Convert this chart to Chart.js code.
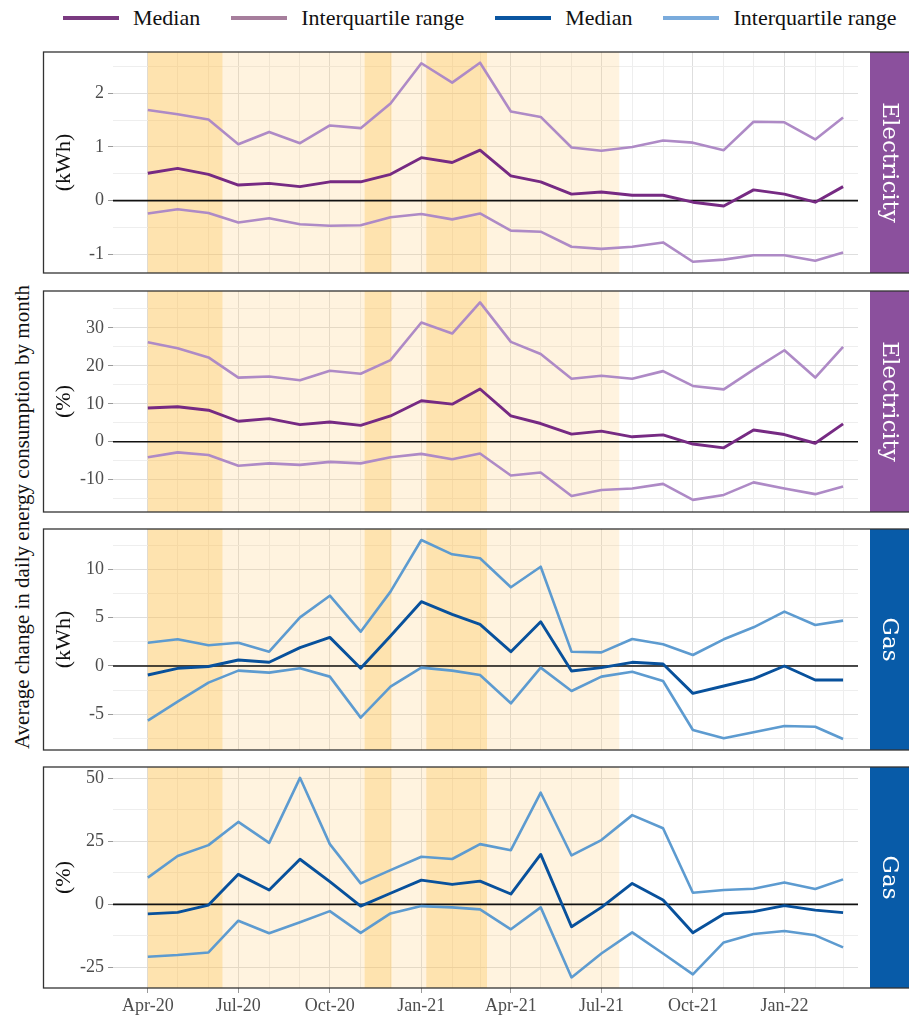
<!DOCTYPE html>
<html>
<head>
<meta charset="utf-8">
<script src="https://cdn.jsdelivr.net/npm/chart.js@4.4.0/dist/chart.umd.min.js"></script>
<style>
  body { margin: 0; background: #fff; }
  #wrap { position: relative; width: 909px; height: 1015px; overflow: hidden; font-family: "Liberation Serif", "Times New Roman", serif; }
  canvas { position: absolute; left: 0; }
  #legend { position: absolute; top: 5px; left: 63px; display: flex; align-items: center; font-size: 22px; white-space: nowrap; color: #111; }
  #legend .key { display: inline-block; width: 56px; height: 4px; margin-right: 14px; }
  #legend .lab { margin-right: 31px; }
  #ytitle { position: absolute; left: 22px; top: 517px; transform: translate(-50%, -50%) rotate(-90deg); font-size: 21px; white-space: nowrap; color: #111; }
</style>
</head>
<body>
<div id="wrap">
  <div id="legend">
    <span class="key" style="background:#7a3a80"></span><span class="lab">Median</span>
    <span class="key" style="background:#a67e9c"></span><span class="lab">Interquartile range</span>
    <span class="key" style="background:#0a55a0"></span><span class="lab">Median</span>
    <span class="key" style="background:#7aabdc"></span><span class="lab" style="margin-right:0">Interquartile range</span>
  </div>
  <div id="ytitle">Average change in daily energy consumption by month</div>
  <canvas id="c1" width="909" height="225" style="top:50px"></canvas>
  <canvas id="c2" width="909" height="225" style="top:289px"></canvas>
  <canvas id="c3" width="909" height="225" style="top:527px"></canvas>
  <canvas id="c4" width="909" height="250" style="top:765px"></canvas>
</div>
<script>
// months of the series (first day of each month)
const months = ['2020-04', '2020-05', '2020-06', '2020-07', '2020-08', '2020-09', '2020-10', '2020-11', '2020-12',
  '2021-01', '2021-02', '2021-03', '2021-04', '2021-05', '2021-06', '2021-07', '2021-08', '2021-09', '2021-10',
  '2021-11', '2021-12', '2022-01', '2022-02', '2022-03'];
const quarterTicks = ['Apr-20', 'Jul-20', 'Oct-20', 'Jan-21', 'Apr-21', 'Jul-21', 'Oct-21', 'Jan-22'];

// restriction periods
const lockdowns = [['2020-04-01', '2020-06-15'], ['2020-11-05', '2020-12-02'], ['2021-01-06', '2021-03-08']];
const restrictions = [['2020-04-01', '2021-07-19']];

// electricity (kWh)
const elecKwhUpper = [1.69, 1.61, 1.51, 1.05, 1.28, 1.07, 1.40, 1.35, 1.81, 2.56, 2.20, 2.57, 1.66, 1.56, 0.99, 0.93, 1.00, 1.12, 1.08, 0.94, 1.47, 1.46, 1.14, 1.55];
const elecKwhMedian = [0.51, 0.60, 0.49, 0.29, 0.32, 0.26, 0.35, 0.35, 0.49, 0.80, 0.71, 0.94, 0.46, 0.35, 0.12, 0.16, 0.10, 0.10, -0.03, -0.10, 0.20, 0.12, -0.03, 0.26];
const elecKwhLower = [-0.24, -0.16, -0.23, -0.41, -0.33, -0.44, -0.47, -0.46, -0.31, -0.25, -0.35, -0.24, -0.56, -0.58, -0.86, -0.90, -0.86, -0.78, -1.14, -1.10, -1.02, -1.02, -1.12, -0.97];

// electricity (%)
const elecPctUpper = [26.2, 24.6, 22.2, 16.9, 17.2, 16.2, 18.7, 17.9, 21.5, 31.4, 28.5, 36.7, 26.3, 23.1, 16.6, 17.4, 16.6, 18.6, 14.7, 13.8, 19.0, 24.1, 16.9, 25.0];
const elecPctMedian = [8.9, 9.2, 8.3, 5.4, 6.1, 4.5, 5.2, 4.3, 6.8, 10.8, 9.9, 13.9, 6.8, 4.8, 2.0, 2.8, 1.3, 1.8, -0.6, -1.6, 3.1, 1.9, -0.4, 4.7];
const elecPctLower = [-4.1, -2.8, -3.5, -6.3, -5.7, -6.1, -5.3, -5.7, -4.1, -3.2, -4.6, -3.1, -8.9, -8.1, -14.3, -12.7, -12.3, -11.1, -15.3, -14.0, -10.7, -12.3, -13.8, -11.8];

// gas (kWh)
const gasKwhUpper = [2.41, 2.76, 2.14, 2.41, 1.48, 5.03, 7.27, 3.55, 7.69, 13.03, 11.55, 11.14, 8.14, 10.27, 1.48, 1.41, 2.79, 2.24, 1.14, 2.76, 4.00, 5.62, 4.24, 4.69];
const gasKwhMedian = [-0.93, -0.24, -0.05, 0.62, 0.38, 1.90, 2.96, -0.24, 3.1, 6.65, 5.34, 4.31, 1.48, 4.58, -0.52, -0.17, 0.38, 0.21, -2.83, -2.07, -1.34, 0.0, -1.45, -1.45];
const gasKwhLower = [-5.65, -3.69, -1.72, -0.48, -0.69, -0.24, -1.10, -5.34, -2.14, -0.17, -0.48, -0.93, -3.86, -0.17, -2.59, -1.10, -0.59, -1.55, -6.62, -7.48, -6.86, -6.2, -6.28, -7.55];

// gas (%)
const gasPctUpper = [10.6, 19.2, 23.5, 32.7, 24.4, 50.2, 23.9, 8.3, 13.6, 18.9, 18.0, 23.9, 21.5, 44.3, 19.4, 25.5, 35.4, 30.2, 4.6, 5.7, 6.2, 8.7, 6.1, 9.9];
const gasPctMedian = [-3.8, -3.2, -0.3, 11.9, 5.7, 17.9, 9.0, -0.7, 4.4, 9.6, 7.9, 9.2, 4.1, 19.8, -8.9, -1.2, 8.3, 1.7, -11.3, -3.8, -2.9, -0.5, -2.3, -3.3];
const gasPctLower = [-20.8, -20.1, -19.1, -6.5, -11.5, -7.1, -2.7, -11.3, -3.6, -0.7, -1.2, -2.0, -9.9, -1.2, -29.0, -19.5, -11.1, -19.5, -27.8, -15.1, -11.8, -10.6, -12.3, -17.1];

// days since 1 Apr 2020
const t0 = Date.UTC(2020, 3, 1);
function day(s)
{
  let p = s.split('-').map(Number);
  return (Date.UTC(p[0], p[1] - 1, p[2] || 1) - t0) / 864e5;
}
const monthDays = months.map(day);
const quarterDays = monthDays.filter((d, i) => [1, 4, 7, 10].includes(+months[i].slice(5)));
const isQuarter = (v) => quarterDays.includes(v);

const serif = 'Liberation Serif';
const elec = {med: '#762a83', iqr: '#ae8ac6', strip: '#8b509d'};
const gas = {med: '#08519c', iqr: '#5d9bd0', strip: '#085ba8'};

const panels = [
  {id: 'c1', unit: '(kWh)', label: 'Electricity', col: elec, med: elecKwhMedian, lo: elecKwhLower, hi: elecKwhUpper,
    min: -1.35, max: 2.77, major: [-1, 0, 1, 2], minor: [-0.5, 0.5, 1.5, 2.5]},
  {id: 'c2', unit: '(%)', label: 'Electricity', col: elec, med: elecPctMedian, lo: elecPctLower, hi: elecPctUpper,
    min: -18.5, max: 39.7, major: [-10, 0, 10, 20, 30], minor: [-15, -5, 5, 15, 25, 35]},
  {id: 'c3', unit: '(kWh)', label: 'Gas', col: gas, med: gasKwhMedian, lo: gasKwhLower, hi: gasKwhUpper,
    min: -8.69, max: 14.17, major: [-5, 0, 5, 10], minor: [-7.5, -2.5, 2.5, 7.5, 12.5]},
  {id: 'c4', unit: '(%)', label: 'Gas', col: gas, med: gasPctMedian, lo: gasPctLower, hi: gasPctUpper,
    min: -33.2, max: 54.5, major: [-25, 0, 25, 50], minor: [-12.5, 12.5, 37.5], bottom: true}
];

// bands, zero line, facet strip and panel box
const decor = {
  id: 'decor',
  beforeDatasetsDraw(chart)
  {
    const {ctx, chartArea: a, scales: {x, y}} = chart;
    ctx.save();
    ctx.beginPath();
    ctx.rect(a.left, a.top, a.right - a.left, a.bottom - a.top);
    ctx.clip();
    const band = (r, color) =>
    {
      let x1 = x.getPixelForValue(day(r[0]));
      let x2 = x.getPixelForValue(day(r[1]));
      ctx.fillStyle = color;
      ctx.fillRect(x1, a.top, x2 - x1, a.bottom - a.top);
    };
    restrictions.forEach((r) => band(r, 'rgba(255,200,110,0.22)'));
    lockdowns.forEach((r) => band(r, 'rgba(252,192,82,0.34)'));
    let y0 = y.getPixelForValue(0);
    ctx.strokeStyle = '#111';
    ctx.lineWidth = 1.6;
    ctx.beginPath();
    ctx.moveTo(a.left, y0);
    ctx.lineTo(a.right, y0);
    ctx.stroke();
    ctx.restore();
  },
  afterDraw(chart, args, o)
  {
    const {ctx, chartArea: a} = chart;
    ctx.save();
    ctx.fillStyle = o.color;
    ctx.fillRect(870, a.top, 39, a.bottom - a.top);
    ctx.translate(889.5, (a.top + a.bottom) / 2);
    ctx.rotate(Math.PI / 2);
    ctx.fillStyle = '#fff';
    ctx.font = '23px "DejaVu Serif"';
    ctx.textAlign = 'center';
    ctx.textBaseline = 'middle';
    ctx.fillText(o.text, 0, 1);
    ctx.restore();
    ctx.save();
    ctx.strokeStyle = '#333';
    ctx.lineWidth = 1.3;
    ctx.strokeRect(43.5, a.top, 870, a.bottom - a.top);
    ctx.restore();
  }
};

panels.forEach((p) =>
{
  const line = (data, color, width) => ({
    data: monthDays.map((d, i) => ({x: d, y: data[i]})),
    borderColor: color,
    borderWidth: width,
    borderJoinStyle: 'round',
    pointRadius: 0,
    tension: 0,
    fill: false
  });
  new Chart(document.getElementById(p.id), {
    type: 'line',
    data: {datasets: [line(p.lo, p.col.iqr, 2.6), line(p.hi, p.col.iqr, 2.6), line(p.med, p.col.med, 2.9)]},
    plugins: [decor],
    options: {
      responsive: false,
      animation: false,
      layout: {padding: {left: 43, right: 51, top: 2, bottom: p.bottom ? 0 : 2}},
      plugins: {legend: {display: false}, tooltip: {enabled: false}, decor: {text: p.label, color: p.col.strip}},
      scales: {
        x: {
          type: 'linear', min: -35, max: 714,
          afterBuildTicks: (s) => { s.ticks = monthDays.map((v) => ({value: v})); },
          afterFit: (s) => { s.height = p.bottom ? 27 : 0; s.paddingLeft = 0; s.paddingRight = 0; },
          border: {display: false},
          grid: {
            color: (c) => (c.tick && isQuarter(c.tick.value)) ? '#dedede' : '#eeeeee',
            lineWidth: 1,
            drawTicks: !!p.bottom,
            tickLength: 5,
            tickColor: (c) => (c.tick && isQuarter(c.tick.value)) ? '#999' : 'rgba(0,0,0,0)'
          },
          ticks: {
            display: !!p.bottom, autoSkip: false, maxRotation: 0, padding: 2,
            color: '#4d4d4d', font: {family: serif, size: 18},
            callback: (v) => { let k = quarterDays.indexOf(v); return k >= 0 ? quarterTicks[k] : ''; }
          }
        },
        y: {
          min: p.min, max: p.max,
          afterBuildTicks: (s) => { s.ticks = p.major.concat(p.minor).sort((a, b) => a - b).map((v) => ({value: v})); },
          afterFit: (s) => { s.width = 70; s.paddingTop = 0; s.paddingBottom = 0; },
          border: {display: false},
          grid: {
            color: (c) => (c.tick && p.major.includes(c.tick.value)) ? '#dedede' : '#eeeeee',
            lineWidth: 1,
            tickLength: 5,
            tickColor: (c) => (c.tick && p.major.includes(c.tick.value)) ? '#999' : 'rgba(0,0,0,0)'
          },
          ticks: {
            autoSkip: false, padding: 4, color: '#4d4d4d', font: {family: serif, size: 18},
            callback: (v) => p.major.includes(v) ? String(v) : ''
          },
          title: {display: true, text: p.unit, color: '#111', font: {family: serif, size: 22}, padding: {top: 8, bottom: 0}}
        }
      }
    }
  });
});
</script>
</body>
</html>
